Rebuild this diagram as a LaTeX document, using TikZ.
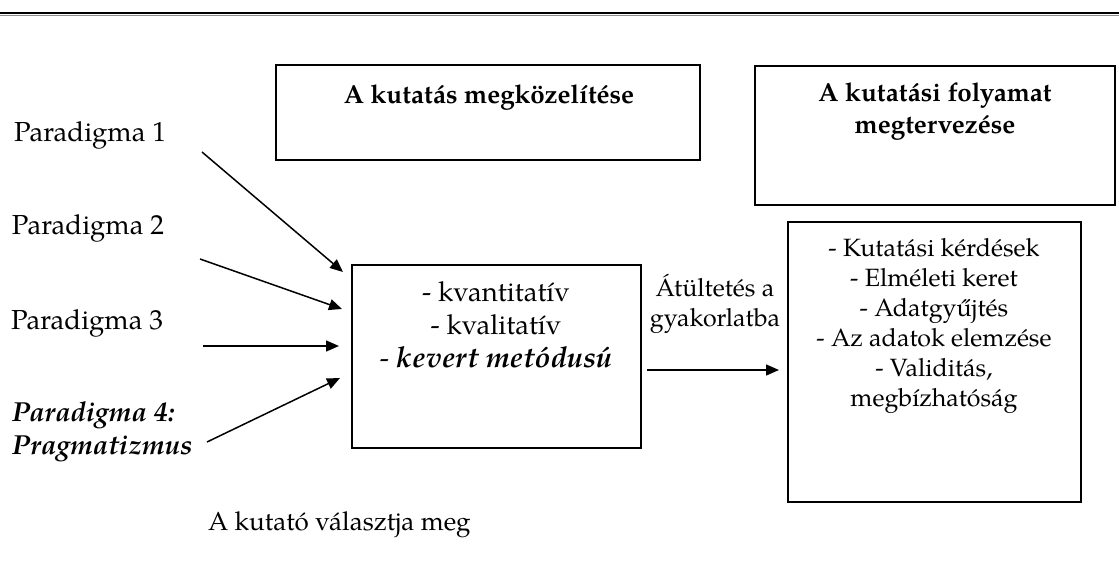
\documentclass[tikz,border=0pt]{standalone}
\usepackage{fontspec}
\setmainfont{texgyrepagella}[
  Extension=.otf,
  UprightFont=*-regular,
  BoldFont=*-bold,
  ItalicFont=*-italic,
  BoldItalicFont=*-bolditalic]
\usetikzlibrary{arrows.meta}
\begin{document}
\begin{tikzpicture}[x=1pt,y=-1pt,
  every node/.style={inner sep=0pt,outer sep=0pt},
  txt/.style={font=\fontsize{25}{30}\selectfont,align=center},
  bigtxt/.style={font=\fontsize{27.5}{33}\selectfont,align=center},
  head/.style={font=\fontsize{26}{32}\selectfont\bfseries,align=center},
  frame/.style={draw=black,line width=2.2pt,rectangle},
  link/.style={line width=1.5pt,-{Triangle[length=13pt,width=11pt]}}]
\useasboundingbox (0,0) rectangle (1119,586);

% rule across the top
\draw[line width=1.8pt,black] (0,13) -- (1119,13);
\draw[line width=1pt,black!45] (0,15.2) -- (1119,15.2);

% framed boxes
\node[frame,minimum width=424pt,minimum height=95pt] (appr) at (488,112.5) {};
\node[frame,minimum width=360pt,minimum height=139pt] (plan) at (935,135.5) {};
\node[frame,minimum width=289pt,minimum height=183pt] (meth) at (496.5,356.5) {};
\node[frame,minimum width=293pt,minimum height=280pt] (steps) at (934.5,362) {};

% headings
\node[head,anchor=center] (apprt) at (489,98) {A kutatás megközelítése};
\node[head,anchor=center] (plant) at (935,112) {A kutatási folyamat\\megtervezése};

% box contents
\node[bigtxt,anchor=center] (metht) at (496,325) {- kvantitatív\\- kvalitatív\\- {\fontsize{29}{33}\selectfont\textbf{\textit{kevert metódusú}}}};
\node[txt,anchor=north] (stepst) at (934,238) {- Kutatási kérdések\\- Elméleti keret\\- Adatgyűjtés\\- Az adatok elemzése\\- Validitás,\\megbízhatóság};

% paradigms
\node[bigtxt,anchor=west] (p1) at (14,135) {Paradigma 1};
\node[bigtxt,anchor=west] (p2) at (12,228) {Paradigma 2};
\node[bigtxt,anchor=west] (p3) at (11,323) {Paradigma 3};
\node[bigtxt,anchor=west,align=left] (p4) at (12,432) {\textbf{\textit{Paradigma 4:}}\\\textbf{\textit{Pragmatizmus}}};

\node[txt,anchor=center] (trans) at (715,304) {Átültetés a\\gyakorlatba};
\node[font=\fontsize{26}{30}\selectfont,anchor=west] (choice) at (208,525) {A kutató választja meg};

% arrow tails and heads
\coordinate (a1) at (202,152);
\coordinate (a2) at (200,259);
\coordinate (a3) at (203,346);
\coordinate (a4) at (207,442);
\coordinate (m1) at (647,370);
\coordinate (m2) at (779,370);
\coordinate (h1) at (343,272);
\coordinate (h2) at (342,309);
\coordinate (h3) at (339,346);
\coordinate (h4) at (340,378);

\draw[link] (a1) -- (h1);
\draw[link] (a2) -- (h2);
\draw[link] (a3) -- (h3);
\draw[link] (a4) -- (h4);
\draw[link] (m1) -- (m2);
\end{tikzpicture}
\end{document}
